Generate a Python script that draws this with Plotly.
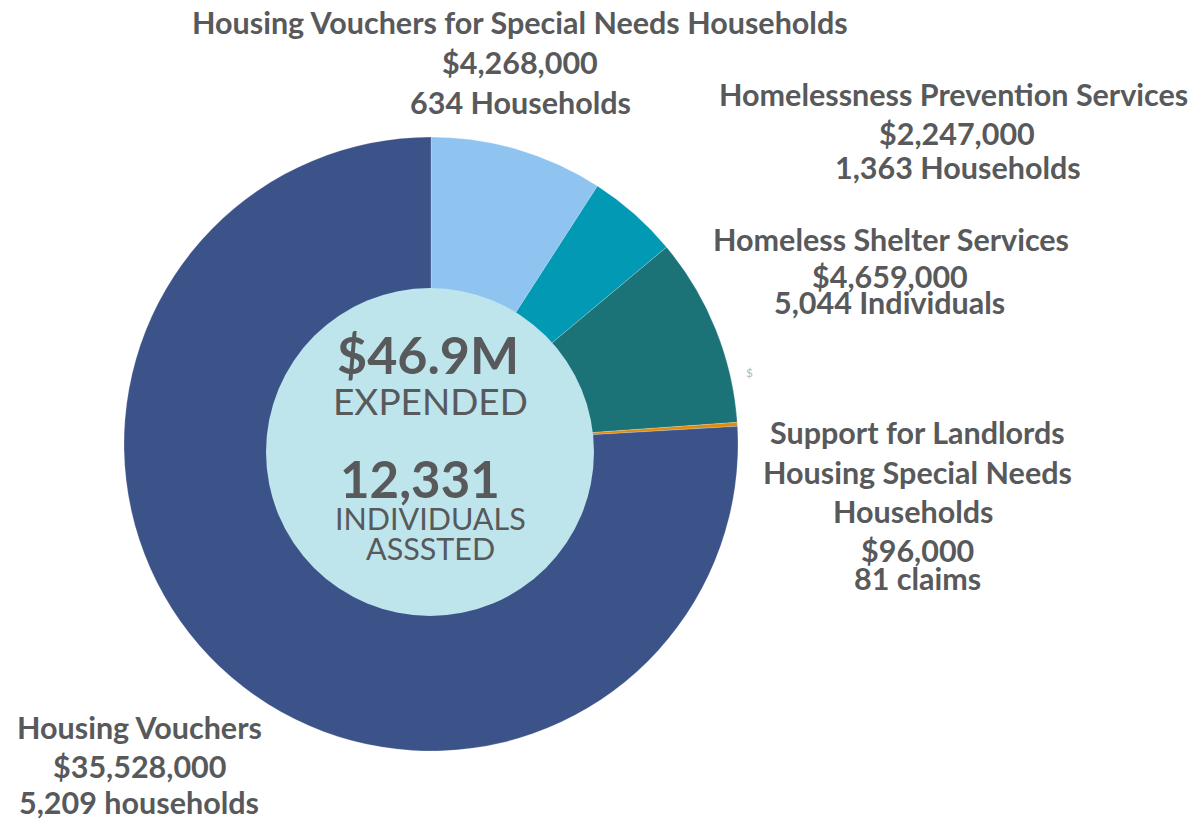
import plotly.graph_objects as go

W, H = 1193, 819

categories = [
    "Housing Vouchers for Special Needs Households",
    "Homelessness Prevention Services",
    "Homeless Shelter Services",
    "Support for Landlords Housing Special Needs Households",
    "Housing Vouchers",
]
amounts = [4268000, 2247000, 4659000, 96000, 35528000]
counts = ["634 Households", "1,363 Households", "5,044 Individuals", "81 claims", "5,209 households"]
colors = ["#8FC4F1", "#0199B3", "#1B7378", "#E08C0B", "#3C538A"]

total_text = "$46.9M"
total_label = "EXPENDED"
people_text = "12,331"
people_label = ["INDIVIDUALS", "ASSSTED"]

# plot area geometry (pixels)
ML, MT, SIZE = 124, 137, 614
MB = H - MT - SIZE
MR = W - ML - SIZE

def px(x):
    return (x - ML) / SIZE

def py(y):
    return (H - MB - y) / SIZE

fig = go.Figure()
fig.add_trace(go.Pie(
    labels=categories, values=amounts, sort=False, direction="clockwise",
    rotation=0, hole=0.45, textinfo="none", hoverinfo="label+value",
    marker=dict(colors=colors, line=dict(color="rgba(255,255,255,0.35)", width=0.6)),
    showlegend=False, domain=dict(x=[0, 1], y=[0, 1]),
))

TXT = "#58595B"
FONT = "Lato"

annotations = []

def add(text, x, y, size, weight="bold", color=TXT):
    annotations.append(dict(
        text=text, x=px(x), y=py(y), xref="paper", yref="paper",
        xanchor="center", yanchor="middle", showarrow=False,
        font=dict(family=FONT, size=size, color=color, weight=weight),
    ))

LS = 30.5
# Housing vouchers for special needs
add(categories[0], 520, 22, LS)
add(f"${amounts[0]:,}", 520, 62, LS)
add(counts[0], 520, 102, LS)
# Homelessness prevention
add(categories[1], 953, 94, LS)
add(f"${amounts[1]:,}", 957, 133, LS)
add(counts[1], 958, 167, LS)
# Homeless shelter
add(categories[2], 891, 239, LS)
add(f"${amounts[2]:,}", 890, 276, LS)
add(counts[2], 889, 302, LS)
# Support for landlords
add("Support for Landlords", 917, 432, LS)
add("Housing Special Needs", 917, 472, LS)
add("Households", 913, 511, LS)
add(f"${amounts[3]:,}", 917, 550, LS)
add(counts[3], 917, 578, LS)
# Housing vouchers
add(categories[4], 139, 727, LS)
add(f"${amounts[4]:,}", 139, 766, LS)
add(counts[4], 139, 802, LS)

# centre
add(total_text, 428, 354, 52)
add(total_label, 430, 400, 37, weight="normal")
add(people_text, 420, 478, 51)
add(people_label[0], 430, 518, 30.5, weight="normal")
add(people_label[1], 430, 548, 30.5, weight="normal")

# small cut-off glyph artifact
add("$", 749, 372, 12, weight="normal", color="#B8B8B8")

R = 164
cx, cy = 430, 452
shapes = [dict(
    type="circle", xref="paper", yref="paper",
    x0=px(cx - R), x1=px(cx + R), y0=py(cy + R), y1=py(cy - R),
    fillcolor="#BEE4EC", line=dict(width=0), layer="above",
)]

fig.update_layout(
    width=W, height=H, autosize=False,
    margin=dict(l=ML, r=MR, t=MT, b=MB, pad=0),
    paper_bgcolor="white", plot_bgcolor="white",
    annotations=annotations, shapes=shapes,
)

fig.write_html("out.html")
